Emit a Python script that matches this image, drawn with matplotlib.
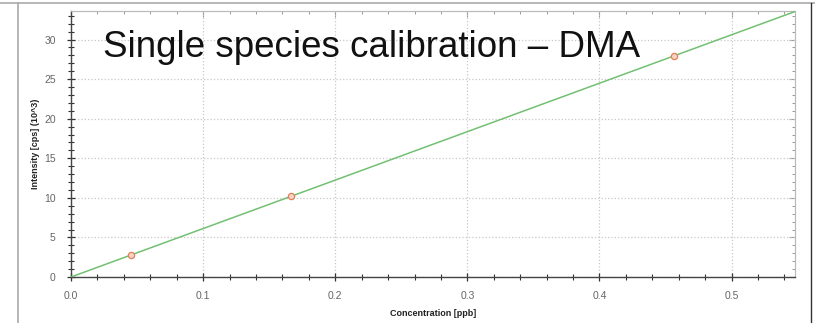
import numpy as np
from matplotlib import pyplot as plt
from matplotlib.lines import Line2D
from matplotlib.ticker import MultipleLocator, NullFormatter

plt.rcParams['font.family'] = ['Liberation Sans', 'DejaVu Sans']

# calibration standards
concentration = [0.0454, 0.1665, 0.4565]   # ppb
intensity = [2.8, 10.25, 27.9]             # cps (10^3)

# calibration curve
slope = 61.2
intercept = 0.0

title = u'Single species calibration \u2013 DMA'
x_label = 'Concentration [ppb]'
y_label = 'Intensity [cps] (10^3)'

if __name__ == '__main__':
    fig = plt.figure(figsize=(8.15, 3.23), dpi=100)
    ax = fig.add_axes([0.0871, 0.1424, 0.8884, 0.8235])

    xs = np.array([0.0, 0.56])
    ax.plot(xs, slope * xs + intercept, color='#72c072', lw=1.1, zorder=3)
    ax.plot(concentration, intensity, 'o', ms=4.5, mfc='#f8d2c2', mec='#e0805c',
            mew=0.9, zorder=4)

    ax.set_xlim(0, 0.548)
    ax.set_ylim(0, 33.6)
    ax.xaxis.set_major_locator(MultipleLocator(0.1))
    ax.xaxis.set_minor_locator(MultipleLocator(0.02))
    ax.yaxis.set_major_locator(MultipleLocator(5))
    ax.yaxis.set_minor_locator(MultipleLocator(1))
    ax.xaxis.set_major_formatter(plt.FuncFormatter(lambda v, p: '%.1f' % v))

    ax.grid(True, which='major', color='#c8c8c8', ls=':', lw=0.9)
    ax.tick_params(which='both', direction='inout', color='#333333',
                   labelsize=7.5, labelcolor='#666666')
    ax.tick_params(which='major', length=6, width=0.9)
    ax.tick_params(which='minor', length=4, width=0.8)
    ax.tick_params(axis='x', pad=7)
    ax.tick_params(axis='y', pad=8)
    for side in ['top', 'right']:
        ax.spines[side].set_color('#bbbbbb')
    for side in ['bottom', 'left']:
        ax.spines[side].set_color('#444444')
        ax.spines[side].set_linewidth(1.0)

    # light inward ticks on the top and right edges
    top = ax.secondary_xaxis('top')
    right = ax.secondary_yaxis('right')
    for sec, axis in [(top, top.xaxis), (right, right.yaxis)]:
        axis.set_major_locator(ax.xaxis.get_major_locator() if sec is top
                               else ax.yaxis.get_major_locator())
        axis.set_minor_locator(MultipleLocator(0.02) if sec is top else MultipleLocator(1))
        axis.set_major_formatter(NullFormatter())
        sec.tick_params(which='both', direction='in', color='#999999')
        sec.tick_params(which='major', length=4, width=0.8)
        sec.tick_params(which='minor', length=2.5, width=0.7)
        for s in sec.spines.values():
            s.set_color('#bbbbbb')

    ax.set_xlabel(x_label, fontsize=6.5, fontweight='bold', color='#222222', labelpad=6)
    ax.set_ylabel(y_label, fontsize=6.5, fontweight='bold', color='#222222', labelpad=3)

    fig.text(0.1264, 0.8235, title, fontsize=26.5, color='#111111')

    # surrounding frame
    fig.add_artist(Line2D([0.0221, 0.0221], [0, 0.9907], transform=fig.transFigure,
                          color='#aaaaaa', lw=1.2))
    fig.add_artist(Line2D([0, 1], [0.9907, 0.9907], transform=fig.transFigure,
                          color='#aaaaaa', lw=1.2))
    fig.add_artist(Line2D([0.995, 0.995], [0, 0.9907], transform=fig.transFigure,
                          color='#333333', lw=1.0))

    plt.savefig('out.png', dpi=100)
